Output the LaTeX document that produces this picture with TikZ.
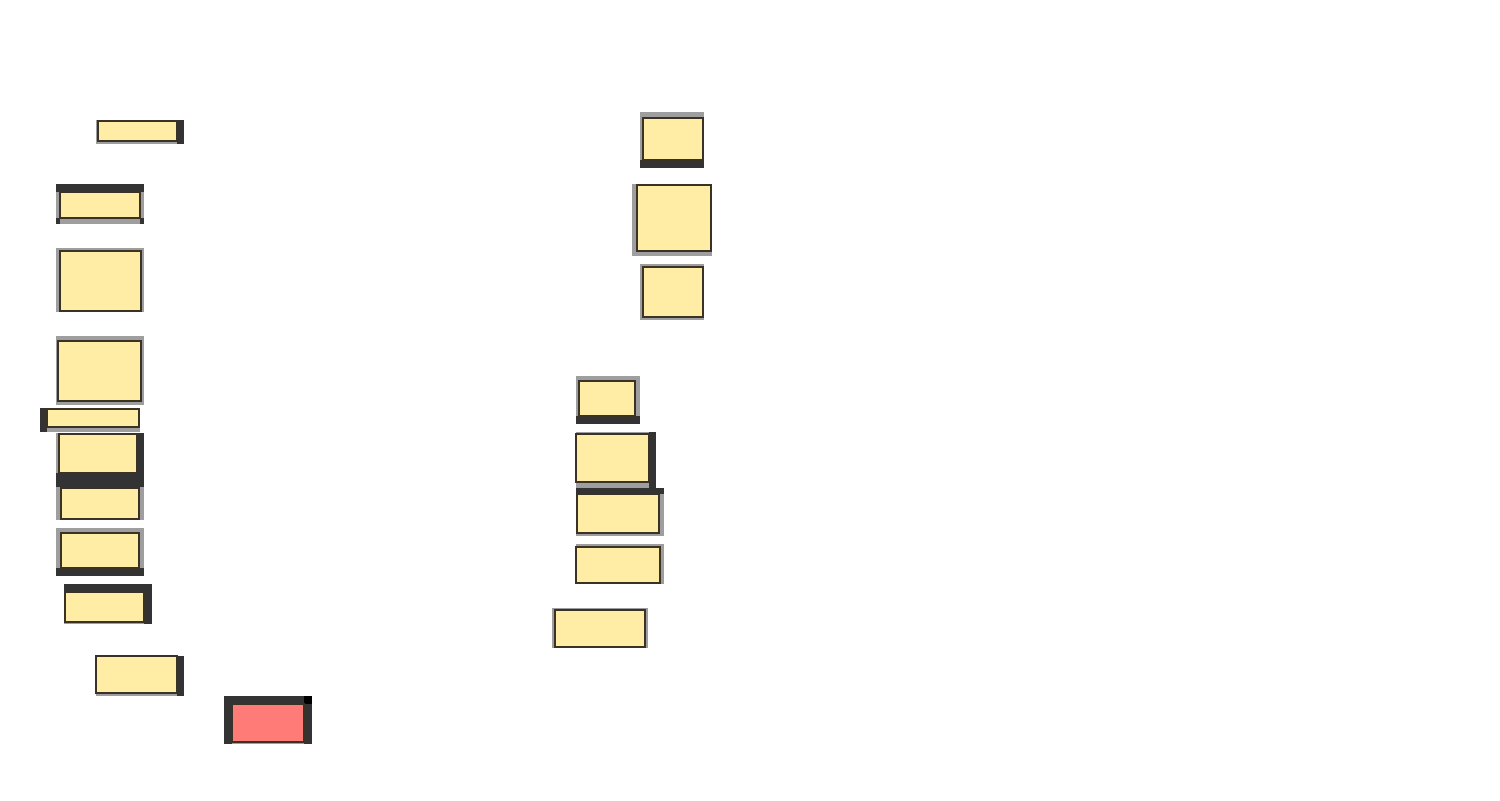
\documentclass[tikz,border=0pt]{standalone}
\definecolor{cardfill}{HTML}{FFECA5}
\definecolor{alertfill}{HTML}{FF7B78}
\definecolor{framegray}{HTML}{9E9E9E}
\definecolor{framedark}{HTML}{333333}
\definecolor{cardline}{HTML}{3A3224}
\begin{document}
\begin{tikzpicture}[x=0.5pt, y=-0.5pt,
    card/.style={draw=cardline, line width=0.7pt, fill=cardfill, anchor=north west,
                 inner sep=0pt, outer sep=0pt}]

        \useasboundingbox (0,0) rectangle (1500,800);

        % --- Cornici grigie ---
        \foreach \xa/\ya/\xb/\yb in {
            96/120/184/144, 56/184/144/224, 56/248/144/312, 56/336/144/405,
            40/408/140/432, 56/433/144/487, 56/487/144/520, 56/528/144/576,
            64/584/152/624, 96/656/184/696, 224/696/312/744,
            640/112/704/168, 632/184/712/256, 640/264/704/320,
            576/376/640/424, 576/432/656/488, 576/488/664/536,
            576/544/664/584, 552/608/648/648
        } {
            \fill[framegray] (\xa,\ya) rectangle (\xb,\yb);
        }

        % --- Bordi scuri ---
        \foreach \xa/\ya/\xb/\yb in {
            177/120/184/144, 56/184/144/192, 56/218/60/224, 140/218/144/224,
            40/408/47/432, 56/473/144/487, 137/433/144/473,
            56/568/144/576, 64/584/152/592, 144/584/152/624,
            177/656/184/696, 224/696/312/704, 224/696/232/744, 304/696/312/744,
            640/160/704/168, 576/416/640/424, 649/432/656/488, 576/488/664/494
        } {
            \fill[framedark] (\xa,\ya) rectangle (\xb,\yb);
        }
        \fill[black] (304,696) rectangle (312,704);

        % --- Schede (colonna sinistra e destra) ---
        \foreach \name/\x/\y/\w/\h in {
            l1/98/121/79/20, l2/60/192/80/26, l3/60/251/81/60, l4/58/341/83/60,
            l5/47/409/92/18, l6/59/434/78/39, l7/61/488/78/31, l8/61/533/78/35,
            l9/65/592/79/30, l10/96/656/81/37,
            r1/643/118/60/42, r2/637/185/74/66, r3/643/267/60/50,
            r4/579/381/56/35, r5/576/434/73/48, r6/577/494/82/39,
            r7/576/547/84/36, r8/555/610/90/37
        } {
            \node[card, minimum width=\w*0.5pt, minimum height=\h*0.5pt] (\name) at (\x,\y) {};
        }

        % --- Scheda rossa ---
        \node[card, fill=alertfill, minimum width=36pt, minimum height=19pt] (alert) at (232,704) {};

    \end{tikzpicture}
\end{document}
